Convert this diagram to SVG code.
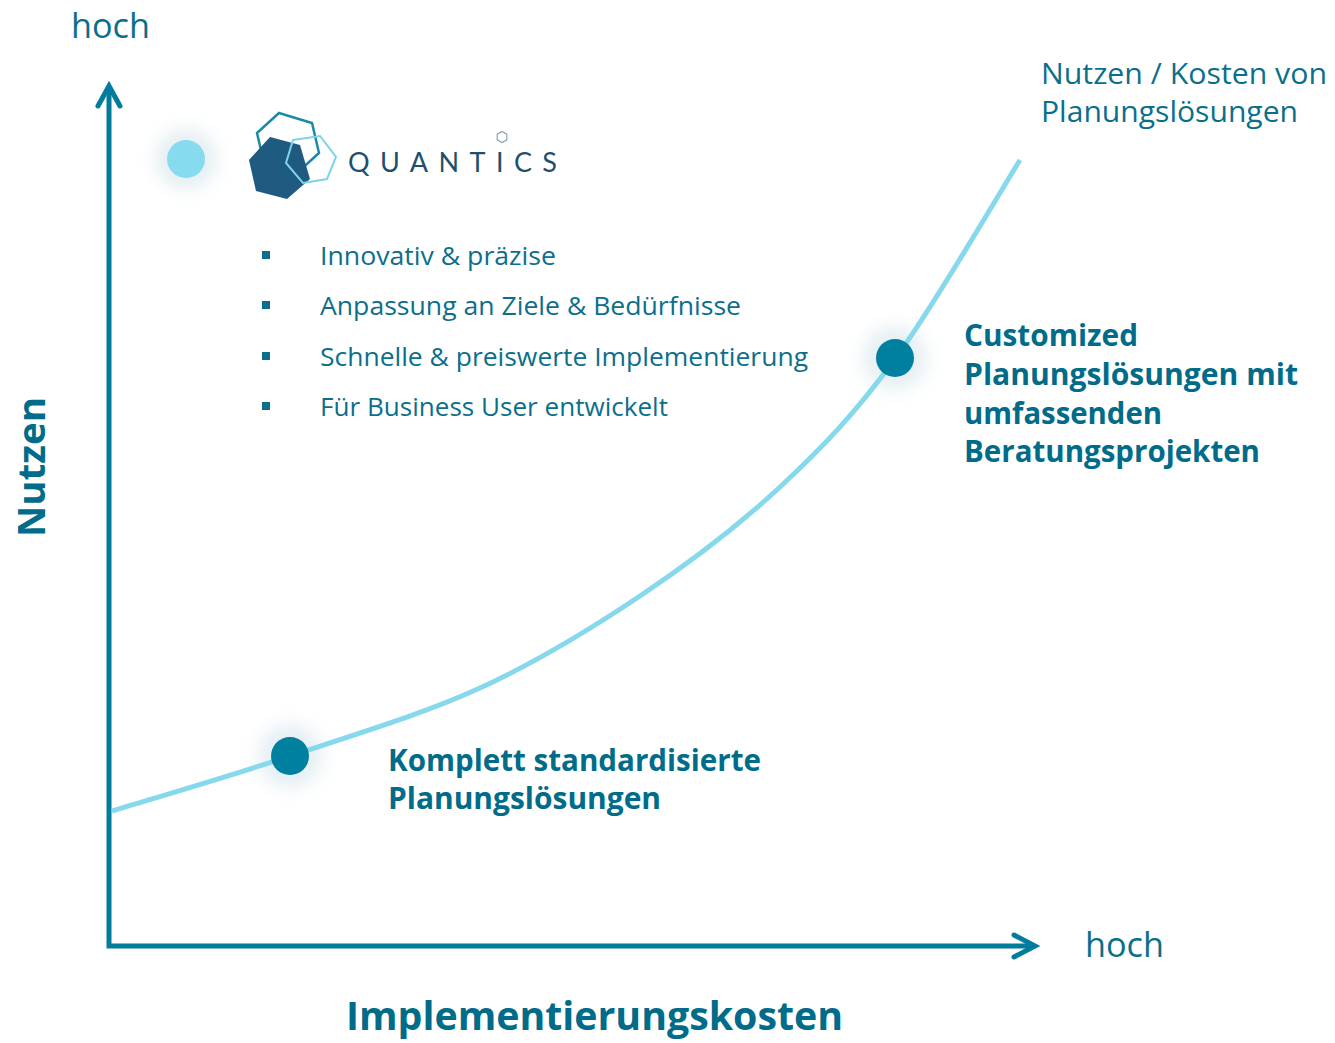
<svg xmlns="http://www.w3.org/2000/svg" width="1335" height="1043" viewBox="0 0 1335 1043">
<style>
.t{font-family:"Open Sans","Noto Sans","Liberation Sans",sans-serif;fill:#0b6f8c}
.b{font-family:"Open Sans","Noto Sans","Liberation Sans",sans-serif;font-weight:700;fill:#006c89}
.axis{stroke:#007c9d;stroke-width:5;fill:none}
.head{stroke:#007c9d;stroke-width:5;fill:none;stroke-linecap:round;stroke-linejoin:miter}
.dot{fill:#00809f}
.bul{fill:#0b6f8c}
</style>
<defs>
<radialGradient id="glow">
<stop offset="0" stop-color="#d6e6ec" stop-opacity="0.95"/>
<stop offset="0.5" stop-color="#e4eef2" stop-opacity="0.7"/>
<stop offset="1" stop-color="#ffffff" stop-opacity="0"/>
</radialGradient>
</defs>
<rect width="1335" height="1043" fill="#ffffff"/>

<g id="glows">
<circle cx="186" cy="159" r="50" fill="url(#glow)"/>
<circle cx="290" cy="756" r="52" fill="url(#glow)"/>
<circle cx="895" cy="358" r="52" fill="url(#glow)"/>
</g>

<g id="connectors">
<path class="axis" d="M109,88 V946 H1034"/>
<path class="head" d="M98,106 L109,86 L120,106"/>
<path class="head" d="M1014,935 L1035,946 L1014,957"/>
<path id="curve" fill="none" stroke="#86d8ec" stroke-width="5" d="M112,811 C141.7,801.8 228.7,776.5 290,756 C351.3,735.5 421.7,714.7 480,688 C538.3,661.3 590,629.5 640,596 C690,562.5 737.5,526.5 780,487 C822.5,447.5 855,413.5 895,359 C935,304.5 999.2,193.2 1020,160"/>
</g>

<g id="axis-labels">
<text class="t" x="71" y="38" font-size="35" textLength="79" lengthAdjust="spacingAndGlyphs">hoch</text>
<text class="t" x="1085" y="957" font-size="35" textLength="79" lengthAdjust="spacingAndGlyphs">hoch</text>
<text class="b" x="346" y="1030" font-size="40" textLength="497" lengthAdjust="spacingAndGlyphs">Implementierungskosten</text>
<text class="b" transform="translate(45,537) rotate(-90)" font-size="38" textLength="140" lengthAdjust="spacingAndGlyphs">Nutzen</text>
</g>

<g id="curve-label">
<text class="t" x="1041" y="84" font-size="30" textLength="286" lengthAdjust="spacingAndGlyphs">Nutzen / Kosten von</text>
<text class="t" x="1041" y="122" font-size="30" textLength="257" lengthAdjust="spacingAndGlyphs">Planungslösungen</text>
</g>

<g id="quantics-node">
<circle cx="186" cy="159" r="19" fill="#87dbef"/>
<polygon points="279,113 312,123 319,153 297,173 264,163 257,133" fill="none" stroke="#1d89a8" stroke-width="2.5"/>
<polygon points="270,137 300,145 310,179 287,199 256,191 249,160" fill="#1f5a80"/>
<polygon points="293,140 320,136 336,157 327,179 303,183 286,163" fill="none" stroke="#7fd3e8" stroke-width="2"/>
<polygon points="502,131.5 506.8,134.2 506.8,139.8 502,142.5 497.2,139.8 497.2,134.2" fill="none" stroke="#8aa3b5" stroke-width="1.2"/>
<text x="348" y="172" font-family="Lato,'Open Sans','Liberation Sans',sans-serif" font-weight="400" font-size="27" fill="#1f4f6e" textLength="209" lengthAdjust="spacing">QUANTICS</text>
<rect class="bul" x="262" y="251" width="8" height="8"/>
<rect class="bul" x="262" y="301" width="8" height="8"/>
<rect class="bul" x="262" y="352" width="8" height="8"/>
<rect class="bul" x="262" y="402" width="8" height="8"/>
<text class="t" x="320" y="265" font-size="26" textLength="236" lengthAdjust="spacingAndGlyphs">Innovativ &amp; präzise</text>
<text class="t" x="320" y="315" font-size="26" textLength="421" lengthAdjust="spacingAndGlyphs">Anpassung an Ziele &amp; Bedürfnisse</text>
<text class="t" x="320" y="366" font-size="26" textLength="488" lengthAdjust="spacingAndGlyphs">Schnelle &amp; preiswerte Implementierung</text>
<text class="t" x="320" y="416" font-size="26" textLength="348" lengthAdjust="spacingAndGlyphs">Für Business User entwickelt</text>
</g>

<g id="standard-node">
<circle class="dot" cx="290" cy="756" r="19"/>
<text class="b" x="388" y="771" font-size="30" textLength="373" lengthAdjust="spacingAndGlyphs">Komplett standardisierte</text>
<text class="b" x="388" y="809" font-size="30" textLength="273" lengthAdjust="spacingAndGlyphs">Planungslösungen</text>
</g>

<g id="custom-node">
<circle class="dot" cx="895" cy="358" r="19"/>
<text class="b" x="964" y="346" font-size="30" textLength="174" lengthAdjust="spacingAndGlyphs">Customized</text>
<text class="b" x="964" y="385" font-size="30" textLength="334" lengthAdjust="spacingAndGlyphs">Planungslösungen mit</text>
<text class="b" x="964" y="424" font-size="30" textLength="198" lengthAdjust="spacingAndGlyphs">umfassenden</text>
<text class="b" x="964" y="462" font-size="30" textLength="296" lengthAdjust="spacingAndGlyphs">Beratungsprojekten</text>
</g>
</svg>
